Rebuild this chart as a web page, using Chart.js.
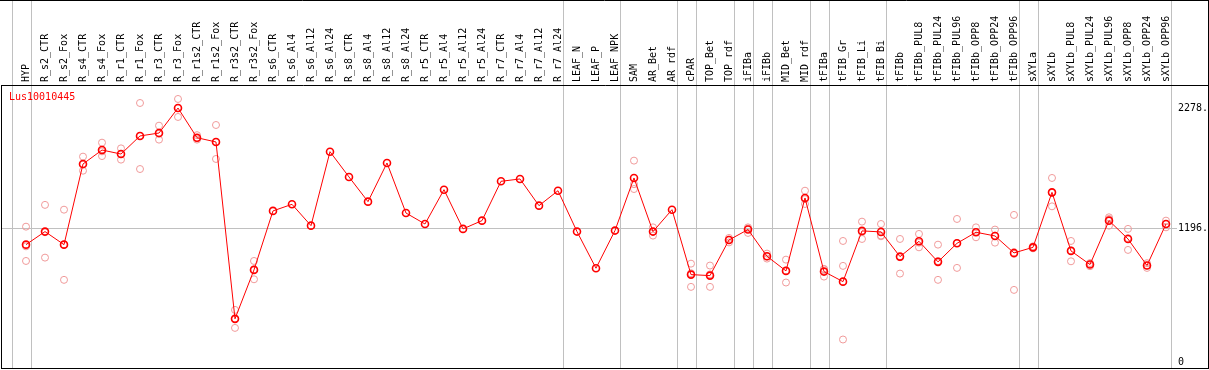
<!DOCTYPE html>
<html>
<head>
<meta charset="utf-8">
<title>Lus10010445</title>
<script src="https://cdn.jsdelivr.net/npm/chart.js@4/dist/chart.umd.min.js"></script>
<style>
  html, body { margin: 0; padding: 0; background: #fff; }
  #wrap { width: 1209px; height: 370px; position: relative; }
</style>
</head>
<body>
<div id="wrap"><canvas id="chart"></canvas></div>
<script>
// --- data ---
const geneName = 'Lus10010445';

const samples = [
  'HYP', 'R_s2_CTR', 'R_s2_Fox', 'R_s4_CTR', 'R_s4_Fox', 'R_r1_CTR', 'R_r1_Fox', 'R_r3_CTR',
  'R_r3_Fox', 'R_r1s2_CTR', 'R_r1s2_Fox', 'R_r3s2_CTR', 'R_r3s2_Fox', 'R_s6_CTR', 'R_s6_Al4',
  'R_s6_Al12', 'R_s6_Al24', 'R_s8_CTR', 'R_s8_Al4', 'R_s8_Al12', 'R_s8_Al24', 'R_r5_CTR',
  'R_r5_Al4', 'R_r5_Al12', 'R_r5_Al24', 'R_r7_CTR', 'R_r7_Al4', 'R_r7_Al12', 'R_r7_Al24',
  'LEAF_N', 'LEAF_P', 'LEAF_NPK', 'SAM', 'AR_Bet', 'AR_rdf', 'cPAR', 'TOP_Bet', 'TOP_rdf',
  'iFIBa', 'iFIBb', 'MID_Bet', 'MID_rdf', 'tFIBa', 'tFIB_Gr', 'tFIB_Li', 'tFIB_Bi', 'tFIBb',
  'tFIBb_PUL8', 'tFIBb_PUL24', 'tFIBb_PUL96', 'tFIBb_OPP8', 'tFIBb_OPP24', 'tFIBb_OPP96',
  'sXYLa', 'sXYLb', 'sXYLb_PUL8', 'sXYLb_PUL24', 'sXYLb_PUL96', 'sXYLb_OPP8', 'sXYLb_OPP24',
  'sXYLb_OPP96'
];

// mean expression per sample
const meanValues = [
  1055, 1172, 1055, 1777, 1902, 1866, 2028, 2054, 2278, 2012, 1974, 391, 829,
  1357, 1416, 1225, 1887, 1661, 1440, 1786, 1338, 1240, 1547, 1196, 1270, 1622, 1643, 1404, 1538,
  1172, 844, 1181, 1652, 1172, 1368, 787, 778, 1097,
  1190, 951, 820, 1473, 814, 724, 1178, 1169, 948,
  1085, 901, 1067, 1166, 1133, 981,
  1031, 1523, 999, 877, 1270, 1106, 868, 1240
];

// individual replicates (null where none is drawn)
const repA = [
  1216, 1411, 1368, 1843, 1968, 1917, 2323, 2120, 2359, 2035, 2126, 471, 909,
  null, null, null, null, null, null, null, null, null, null, null, null, null, null, null, null,
  null, null, null, 1807, 1210, null, 885, 868, 1075,
  1210, 975, 921, 1538, 838, 1088, 1261, 1240, 1106,
  1151, 1055, 1285, 1210, 1190, 1321,
  1040, 1652, 1088, 890, 1300, 1196, 889, 1270
];
const repB = [
  909, 939, 740, 1717, 1848, 1816, 1732, 1995, 2198, 1995, 1822, 310, 745,
  null, null, null, null, null, null, null, null, null, null, null, null, null, null, null, null,
  null, null, null, 1553, 1136, null, 677, 677, 1115,
  1160, 930, 716, 1419, 769, 865, 1106, 1130, 796,
  1031, 740, 847, 1121, 1073, 650,
  1022, 1398, 906, 862, 1225, 1008, 847, 1210
];
const repC = [
  1040, 1166, 1057, 1771, 1890, 1866, 2029, 2047, 2277, 2006, 1974, 392, 833,
  null, null, null, null, null, null, null, null, null, null, null, null, null, null, null, null,
  null, null, null, 1596, 1170, null, 799, 789, 1100,
  1200, 948, 823, 1462, 835, 206, 1167, 1137, 942,
  1073, 908, 1069, 1167, 1136, 972,
  1031, 1519, 1003, 879, 1285, 1114, 868, 1240
];

// last sample index of each tissue group (a separator follows it)
const groupEnds = [-1, 0, 28, 31, 34, 35, 37, 38, 39, 41, 42, 45, 52, 53, 60];

// right-hand tick values: 0, overall mean, max mean
const yTicks = [0, 1196, 2278];

// --- build datasets ---
const meanPoints = meanValues.map((v, i) => ({ x: i, y: v }));
const repPoints = [];
[repA, repB, repC].forEach(arr => {
  arr.forEach((v, i) => { if (v !== null) repPoints.push({ x: i, y: v }); });
});

const MONO = '"DejaVu Sans Mono", "Liberation Mono", monospace';

// separators, frame and gene name
const decor = {
  id: 'decor',
  beforeDatasetsDraw(chart) {
    const { ctx, chartArea: ca, scales: { x } } = chart;
    ctx.save();
    ctx.strokeStyle = '#c0c0c0';
    ctx.lineWidth = 1;
    groupEnds.forEach(g => {
      const px = Math.round(x.getPixelForValue(g + 0.24)) + 0.5;
      ctx.beginPath();
      ctx.moveTo(px, 0);
      ctx.lineTo(px, ca.bottom);
      ctx.stroke();
    });
    ctx.restore();
  },
  afterDraw(chart) {
    const { ctx, chartArea: ca, width } = chart;
    ctx.save();
    ctx.strokeStyle = '#000';
    ctx.lineWidth = 1;
    ctx.beginPath();
    ctx.moveTo(0, 0.5); ctx.lineTo(width, 0.5);
    ctx.moveTo(width - 0.5, 0); ctx.lineTo(width - 0.5, ca.bottom + 1);
    ctx.moveTo(ca.left + 0.5, ca.top + 0.5); ctx.lineTo(width, ca.top + 0.5);
    ctx.moveTo(ca.left + 0.5, ca.top); ctx.lineTo(ca.left + 0.5, ca.bottom + 1);
    ctx.moveTo(ca.left, ca.bottom + 0.5); ctx.lineTo(width, ca.bottom + 0.5);
    ctx.stroke();

    ctx.fillStyle = '#ff0000';
    ctx.font = '10px ' + MONO;
    ctx.textBaseline = 'middle';
    ctx.textAlign = 'left';
    ctx.fillText(chart.data.datasets[0].label, ca.left + 8, ca.top + 12);
    ctx.restore();
  }
};

new Chart(document.getElementById('chart'), {
  type: 'line',
  data: {
    datasets: [{
      label: geneName,
      data: meanPoints,
      borderColor: '#ff0000',
      borderWidth: 1,
      pointRadius: 3.5,
      pointBorderWidth: 1.6,
      pointBorderColor: '#ff0000',
      pointBackgroundColor: 'rgba(255,255,255,0)',
      tension: 0,
      order: 1,
    }, {
      label: 'replicates',
      data: repPoints,
      showLine: false,
      pointRadius: 3.5,
      pointBorderWidth: 1,
      pointBorderColor: '#f09a9a',
      pointBackgroundColor: 'rgba(255,255,255,0)',
      order: 2,
    }],
  },
  options: {
    responsive: true,
    maintainAspectRatio: false,
    animation: false,
    layout: { autoPadding: false, padding: { left: 1, right: 1, top: 0, bottom: 2 } },
    plugins: { legend: { display: false }, tooltip: { enabled: false } },
    scales: {
      x: {
        type: 'linear',
        position: 'top',
        min: -1.3158,
        max: 60.579,
        afterBuildTicks: s => { s.ticks = samples.map((_, i) => ({ value: i })); },
        afterFit: s => {
          s.height = 85;
          s.paddingLeft = 0;
          s.paddingRight = 0;
        },
        grid: { display: false, drawTicks: false },
        border: { display: false },
        ticks: {
          autoSkip: false,
          minRotation: 90,
          maxRotation: 90,
          padding: 3,
          labelOffset: 12,
          color: '#000',
          font: { family: MONO, size: 10 },
          callback: v => samples[v] ?? '',
        },
      },
      y: {
        type: 'linear',
        position: 'right',
        min: -49,
        max: 2484,
        afterBuildTicks: s => { s.ticks = yTicks.map(v => ({ value: v })); },
        afterFit: s => {
          s.width = 31;
          s.paddingTop = 0;
          s.paddingBottom = 0;
        },
        grid: {
          drawTicks: false,
          color: c => (c.tick && c.tick.value === 1196 ? '#c0c0c0' : 'rgba(0,0,0,0)'),
        },
        border: { display: false },
        ticks: {
          padding: 1,
          color: '#000',
          font: { family: MONO, size: 10 },
          callback: v => (v === 0 ? '0' : v + '.'),
        },
      },
    },
  },
  plugins: [decor],
});
</script>
</body>
</html>
